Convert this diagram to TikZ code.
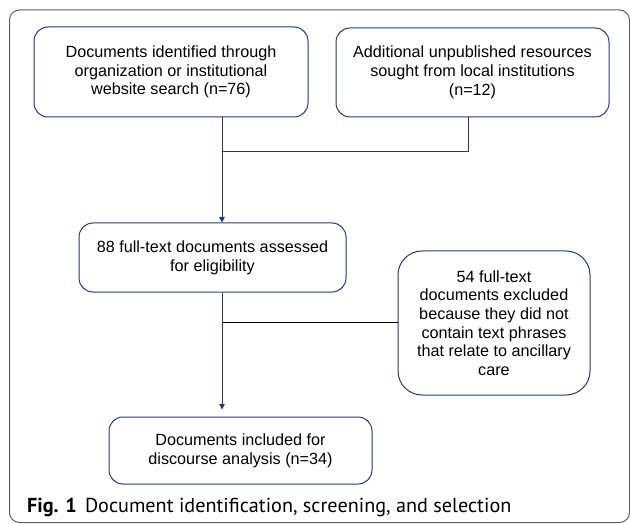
\documentclass[tikz,border=0pt]{standalone}
\usepackage{fontspec}
\setmainfont{Liberation Sans}
\newfontfamily\capfont{PT Sans}
\usetikzlibrary{positioning, arrows.meta, calc}

\definecolor{flowblue}{RGB}{38,58,110}
\definecolor{framegray}{RGB}{95,95,95}

\begin{document}
\begin{tikzpicture}[
    x=1pt, y=-1pt,
    % --- styles ---
    flowbox/.style={
            draw=flowblue,
            line width=1pt,
            rounded corners=14pt,
            align=center,
            inner sep=0pt,
            font=\fontsize{16.2}{18.7}\selectfont
        },
    exclbox/.style={
            flowbox,
            rounded corners=24pt
        },
    flowArrow/.style={
            -{Triangle[length=5.5pt,width=5.5pt]},
            line width=1pt,
            color=flowblue
        },
    flowLine/.style={
            line width=1pt,
            color=flowblue
        },
    exclLine/.style={
            line width=1pt,
            color=black
        }
    ]

    % page and outer frame
    \useasboundingbox (0,0) rectangle (630,524);
    \draw[framegray, line width=1pt, rounded corners=10pt] (9.5,10) rectangle (629.5,522.5);

    % 1. Identification
    \node[flowbox, minimum width=274pt, minimum height=90pt] (found) at (171,72)
        {Documents identified through\\organization or institutional\\website search (n=76)};
    \node[flowbox, minimum width=273pt, minimum height=89pt] (extra) at (472.5,72.5)
        {Additional unpublished resources\\sought from local institutions\\(n=12)};

    % 2. Screening
    \node[flowbox, minimum width=267pt, minimum height=69pt] (assess) at (212.5,257.5)
        {88 full-text documents assessed\\for eligibility};
    \node[exclbox, minimum width=192pt, minimum height=144pt] (excluded) at (494,323)
        {54 full-text\\documents excluded\\because they did not\\contain text phrases\\that relate to ancillary\\care};

    % 3. Included
    \node[flowbox, minimum width=263pt, minimum height=67pt] (included) at (240.5,450.5)
        {Documents included for\\discourse analysis (n=34)};

    % junction points
    \coordinate (merge) at (222,152);
    \coordinate (split) at (222,322);

    % 4. Connectors
    \draw[flowLine] (extra.south -| 468,0) |- (merge);
    \draw[flowArrow] (found.south -| merge) -- (assess.north -| merge);
    \draw[flowArrow, shorten >=7pt] (assess.south -| split) -- (included.north -| split);
    \draw[exclLine] (split) -- (split -| excluded.west);

    % caption
    \node[anchor=base west, inner sep=0pt, font=\capfont\fontsize{20.2}{23}\selectfont] (caption) at (27,512)
        {\textbf{Fig. 1}\hspace{0.4em}Document identification, screening, and selection};

\end{tikzpicture}
\end{document}
